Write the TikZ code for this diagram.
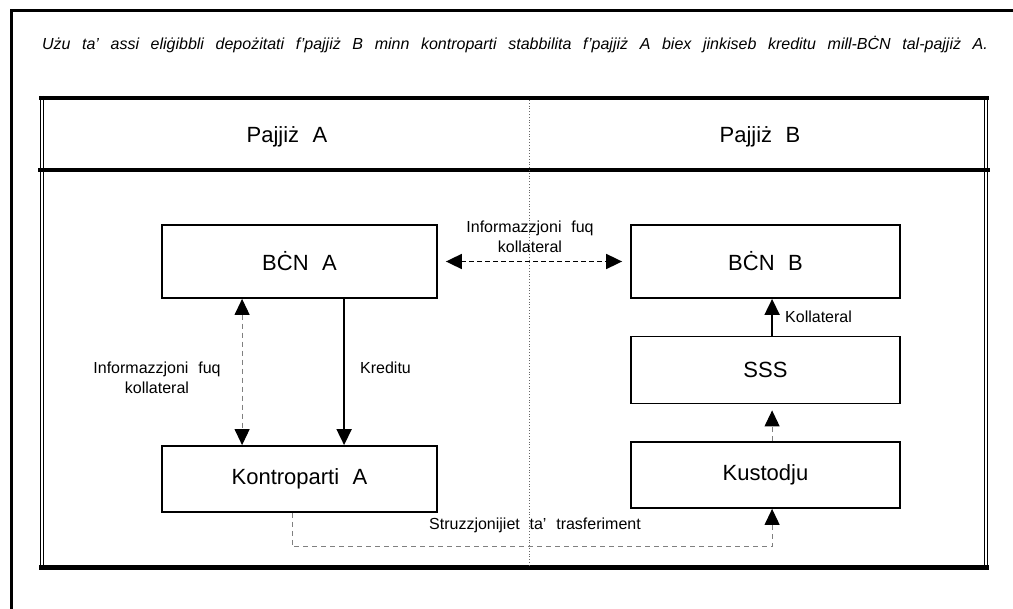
\documentclass[tikz,border=0pt]{standalone}
\usepackage{fontspec}
\setmainfont{Liberation Sans}[WordSpace=2.2]
\usetikzlibrary{arrows.meta}
\tikzset{
  box/.style={draw, line width=1.8pt, minimum width=#1, inner sep=0pt},
  big/.style={font=\fontsize{22}{24}\selectfont},
  lab/.style={font=\fontsize{16}{20}\selectfont, align=center, inner sep=0pt},
  tip/.style={-{Triangle[length=16pt,width=15pt,color=black]}},
  tips/.style={{Triangle[length=16pt,width=15pt,color=black]}-{Triangle[length=16pt,width=15pt,color=black]}},
  grayline/.style={draw=black!50, line width=1.1pt, dash pattern=on 5pt off 4pt},
}
\begin{document}
\begin{tikzpicture}[x=1pt,y=-1pt]
\useasboundingbox (0,0) rectangle (1013,609);
% outer frame (cropped)
\draw[line width=3pt] (11.5,609) -- (11.5,11) -- (1013,11);
% title
\node[inner sep=0pt] (title) at (515,45) {\fontsize{16}{18}\itshape\selectfont\frenchspacing
  \hbox to 946pt{\spaceskip=0pt plus 1fil Użu ta' assi eliġibbli depożitati f'pajjiż B minn kontroparti stabbilita f'pajjiż A biex jinkiseb kreditu mill-BĊN tal-pajjiż A.}};
% inner frame
\draw[line width=1pt] (40.5,96) -- (40.5,570);
\draw[line width=1pt] (43.5,96) -- (43.5,570);
\draw[line width=1pt] (984.5,96) -- (984.5,570);
\draw[line width=1pt] (987.5,96) -- (987.5,570);
\draw[line width=4pt] (39,98) -- (989,98);
\draw[line width=4.5pt] (39,567.5) -- (989,567.5);
\draw[line width=3.5pt] (38,170) -- (990,170);
\draw[black!60, dotted, line width=0.8pt] (529,100) -- (529,565);
% header labels
\node[big] (pa) at (287,137) {Pajjiż A};
\node[big] (pb) at (760,137) {Pajjiż B};
% boxes
\node[box=275pt, minimum height=73pt, big] (bcnA) at (299.5,261.5) {BĊN A};
\node[box=269pt, minimum height=73pt, big] (bcnB) at (765.5,261.5) {BĊN B};
\node[box=269pt, minimum height=67pt, big] (sss) at (765.5,370) {SSS};
\node[box=269pt, minimum height=66pt, big] (kust) at (765.5,475) {Kustodju};
\node[box=275pt, minimum height=66pt, big] (kontA) at (299.5,479) {Kontroparti A};
% connectors
\draw[tips, line width=1.8pt, dash pattern=on 5pt off 3pt, shorten <=8pt, shorten >=8pt]
  (bcnA.east) -- (bcnB.west);
\node[lab] (l1) at (530,237) {Informazzjoni fuq\\kollateral};
\draw[tips, grayline] ([xshift=81pt]bcnA.south west) -- ([xshift=81pt]kontA.north west);
\node[lab] (l2) at (157,378) {Informazzjoni fuq\\kollateral};
\draw[tip, line width=1.8pt] ([xshift=183pt]bcnA.south west) -- ([xshift=183pt]kontA.north west);
\node[lab, anchor=west] (l3) at (360,368) {Kreditu};
\draw[tip, line width=1.8pt] ([xshift=142pt]sss.north west) -- ([xshift=142pt]bcnB.south west);
\node[lab, anchor=west] (l4) at (785,317) {Kollateral};
\draw[tip, grayline, shorten >=6pt] ([xshift=142pt]kust.north west) -- ([xshift=142pt]sss.south west);
\draw[tip, grayline] ([xshift=131pt]kontA.south west) -- ++(0,34) -| ([xshift=142pt]kust.south west);
\node[lab] (l5) at (535,525) {Struzzjonijiet ta' trasferiment};
\end{tikzpicture}
\end{document}
